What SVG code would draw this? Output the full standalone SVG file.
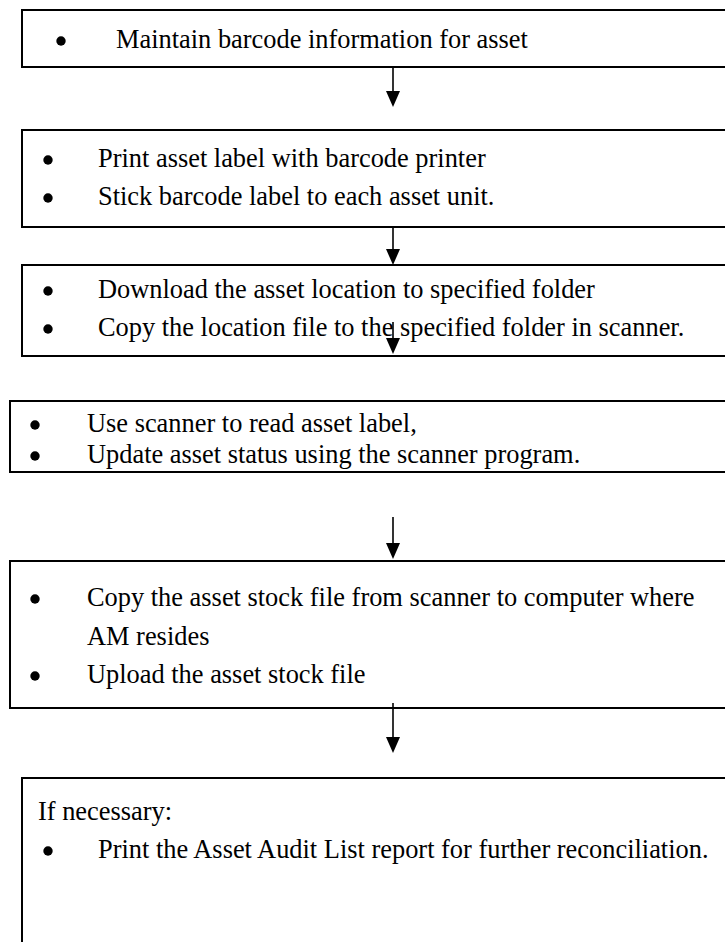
<svg xmlns="http://www.w3.org/2000/svg" width="725" height="942" viewBox="0 0 725 942">
<style>
.box{fill:#fff;stroke:#000;stroke-width:2}
.t{font-family:"Liberation Serif","Times New Roman",serif;font-size:26.4px;fill:#000}
.c{stroke:#000;stroke-width:1.6;fill:none}
</style>
<g id="n1">
<rect class="box" x="22" y="10" width="720" height="57"/>
<circle cx="61" cy="41" r="4.7"/>
<text class="t" x="116" y="48">Maintain barcode information for asset</text>
</g>
<g id="n2">
<rect class="box" x="22" y="130" width="720" height="97"/>
<circle cx="48" cy="160" r="4.7"/>
<text class="t" x="98" y="167">Print asset label with barcode printer</text>
<circle cx="48" cy="198" r="4.7"/>
<text class="t" x="98" y="205">Stick barcode label to each asset unit.</text>
</g>
<g id="n3">
<rect class="box" x="22" y="265" width="720" height="91"/>
<circle cx="48" cy="291" r="4.7"/>
<text class="t" x="98" y="298">Download the asset location to specified folder</text>
<circle cx="48" cy="329" r="4.7"/>
<text class="t" x="98" y="336">Copy the location file to the specified folder in scanner.</text>
</g>
<g id="n4">
<rect class="box" x="10" y="401" width="730" height="71"/>
<circle cx="35" cy="425" r="4.7"/>
<text class="t" x="87" y="432">Use scanner to read asset label,</text>
<circle cx="35" cy="456" r="4.7"/>
<text class="t" x="87" y="463">Update asset status using the scanner program.</text>
</g>
<g id="n5">
<rect class="box" x="10" y="561" width="730" height="147"/>
<circle cx="35" cy="599" r="4.7"/>
<text class="t" x="87" y="606">Copy the asset stock file from scanner to computer where</text>
<text class="t" x="87" y="645">AM resides</text>
<circle cx="35" cy="676" r="4.7"/>
<text class="t" x="87" y="683">Upload the asset stock file</text>
</g>
<g id="n6">
<rect class="box" x="22" y="778" width="720" height="180"/>
<text class="t" x="38" y="820">If necessary:</text>
<circle cx="48" cy="851" r="4.7"/>
<text class="t" x="98" y="858">Print the Asset Audit List report for further reconciliation.</text>
</g>
<g id="connectors">
<line class="c" x1="393" y1="67" x2="393" y2="92"/>
<polygon points="386,91 400,91 393,107"/>
<line class="c" x1="393" y1="227" x2="393" y2="250"/>
<polygon points="386,249 400,249 393,265"/>
<line class="c" x1="393" y1="322" x2="393" y2="339"/>
<polygon points="386,338 400,338 393,354"/>
<line class="c" x1="393" y1="517" x2="393" y2="544"/>
<polygon points="386,543 400,543 393,559"/>
<line class="c" x1="393" y1="703" x2="393" y2="738"/>
<polygon points="386,737 400,737 393,753"/>
</g>
</svg>
